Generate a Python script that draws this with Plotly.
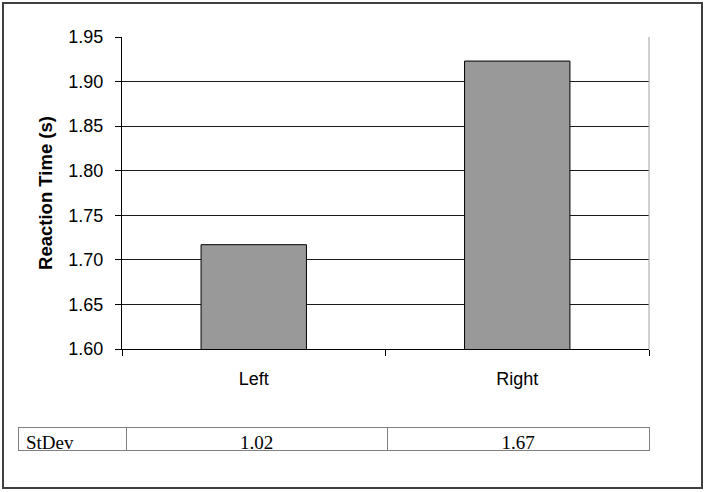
import plotly.graph_objects as go

categories = ["Left", "Right"]
reaction_time = [1.717, 1.923]
table_label = "StDev"
stdev_values = ["1.02", "1.67"]

W, H = 706, 492
def px(x):
    return x / W
def py(y):
    return (H - y) / H

fig = go.Figure()
fig.add_trace(go.Bar(
    x=categories, y=reaction_time,
    marker=dict(color="#999999", line=dict(color="#000000", width=1)),
    width=0.4, xaxis="x", yaxis="y", showlegend=False,
))

fig.add_trace(go.Table(
    domain=dict(x=[px(18), px(649)], y=[py(451), py(427)]),
    columnwidth=[108, 261, 262],
    header=dict(
        values=[table_label] + stdev_values,
        align=["left", "center", "center"],
        font=dict(family="Liberation Serif", size=19, color="#000000"),
        fill=dict(color="#ffffff"),
        line=dict(color="#808080", width=1),
        height=23,
    ),
))

fig.update_layout(
    width=W, height=H,
    margin=dict(l=0, r=0, t=0, b=0),
    paper_bgcolor="#ffffff", plot_bgcolor="#ffffff",
    font=dict(family="Liberation Sans", size=18, color="#000000"),
    xaxis=dict(
        domain=[px(122), px(649)],
        anchor="y",
        showline=True, linecolor="#000000", linewidth=1,
        ticks="outside", tickson="boundaries", ticklen=6, tickcolor="#000000",
        showgrid=False, automargin=False,
        tickfont=dict(size=18),
        ticklabelstandoff=13,
    ),
    yaxis=dict(
        domain=[py(349), py(37)],
        anchor="x",
        range=[1.60, 1.95], dtick=0.05, tick0=1.60, tickformat=".2f",
        showline=True, linecolor="#000000", linewidth=1,
        ticks="outside", ticklen=6, tickcolor="#000000",
        showgrid=True, gridcolor="#1a1a1a", gridwidth=1,
        zeroline=False, automargin=False,
        tickfont=dict(size=18),
        ticklabelstandoff=8,
        title=dict(text="<b>Reaction Time (s)</b>", font=dict(size=18.5), standoff=10),
    ),
    shapes=[
        dict(type="rect", xref="paper", yref="paper",
             x0=px(3), x1=px(702), y0=py(488), y1=py(3),
             line=dict(color="#404040", width=2), fillcolor="rgba(0,0,0,0)", layer="below"),
        dict(type="line", xref="paper", yref="paper",
             x0=px(649), x1=px(649), y0=py(349), y1=py(37),
             line=dict(color="#a0a0a0", width=1)),
    ],
)

fig.write_html("out.html")
